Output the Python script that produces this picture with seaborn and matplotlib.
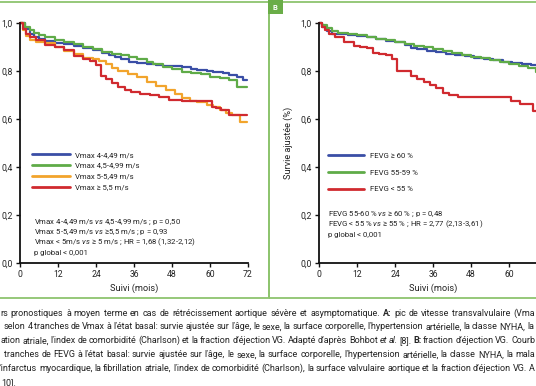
import matplotlib
matplotlib.use("Agg")
import matplotlib.pyplot as plt
import pandas as pd
import seaborn as sns
from matplotlib.patches import Rectangle

# ---------------- data ----------------
X_TICKS = [0, 12, 24, 36, 48, 60, 72]
Y_TICKS = [0.0, 0.2, 0.4, 0.6, 0.8, 1.0]
Y_TICK_LABELS = ["0,0", "0,2", "0,4", "0,6", "0,8", "1,0"]
X_LABEL = "Suivi (mois)"
Y_LABEL = "Survie ajustée (%)"

# Panel A : Vmax groups
A_LABELS = ["Vmax 4-4,49 m/s", "Vmax 4,5-4,99 m/s", "Vmax 5-5,49 m/s", "Vmax ≥ 5,5 m/s"]
a_blue_t = [0, 1.5, 3, 4.5, 6, 8, 11, 14, 17, 20, 23, 26, 28, 30, 32, 34.5, 37, 40, 43, 45, 48, 51, 54, 56, 59, 61, 64, 66, 68.5, 70.5, 71.7]
a_blue_s = [1.0, 0.975, 0.955, 0.94, 0.932, 0.925, 0.918, 0.911, 0.903, 0.894, 0.886, 0.877, 0.868, 0.858, 0.85, 0.839, 0.833, 0.828, 0.825, 0.822, 0.82, 0.818, 0.81, 0.804, 0.80, 0.794, 0.79, 0.783, 0.774, 0.763, 0.763]
a_green_t = [0, 1.5, 3, 4.5, 6, 8, 11, 14, 17, 20, 23, 26, 29, 32, 34.5, 37, 40, 42, 45, 48, 51, 54, 57, 60, 63, 66, 68.4, 71.7]
a_green_s = [1.0, 0.985, 0.97, 0.957, 0.948, 0.94, 0.93, 0.922, 0.912, 0.901, 0.89, 0.88, 0.872, 0.865, 0.86, 0.85, 0.839, 0.83, 0.818, 0.807, 0.797, 0.79, 0.786, 0.776, 0.77, 0.763, 0.735, 0.735]
a_orange_t = [0, 1, 2, 3, 5, 8, 11, 14, 17, 20, 23, 25, 27, 29, 31, 34, 37, 40, 43, 46, 49, 51, 53.6, 56, 59, 61, 63, 65, 67, 69.4, 71.7]
a_orange_s = [1.0, 0.97, 0.945, 0.928, 0.922, 0.915, 0.9, 0.882, 0.869, 0.856, 0.852, 0.84, 0.828, 0.814, 0.80, 0.787, 0.775, 0.755, 0.738, 0.721, 0.703, 0.686, 0.675, 0.67, 0.66, 0.65, 0.637, 0.625, 0.617, 0.589, 0.589]
a_red_t = [0, 1, 2, 3, 5, 8, 11, 14, 17, 20, 22, 24, 25.5, 27, 29, 31, 33, 35, 38, 41, 44, 47, 51, 55, 60.5, 62, 63.5, 66, 71.7]
a_red_s = [1.0, 0.975, 0.955, 0.94, 0.93, 0.908, 0.898, 0.888, 0.862, 0.848, 0.84, 0.825, 0.78, 0.765, 0.75, 0.735, 0.72, 0.711, 0.705, 0.70, 0.69, 0.679, 0.675, 0.675, 0.651, 0.645, 0.637, 0.617, 0.617]

# Panel B : FEVG groups
B_LABELS = ["FEVG ≥ 60 %", "FEVG 55-59 %", "FEVG < 55 %"]
b_blue_t = [0, 1, 2.5, 4, 6, 9, 12, 15, 18, 21, 24, 27, 29, 31, 34, 37, 40, 43, 46, 49, 52, 55, 58, 61, 64, 67, 69, 72]
b_blue_s = [1.0, 0.985, 0.965, 0.955, 0.953, 0.95, 0.945, 0.94, 0.933, 0.927, 0.92, 0.91, 0.895, 0.89, 0.885, 0.88, 0.872, 0.866, 0.862, 0.855, 0.85, 0.845, 0.839, 0.834, 0.828, 0.825, 0.818, 0.818]
b_green_t = [0, 1, 2.5, 4, 6, 9, 12, 15, 18, 21, 24, 27, 30, 33, 36, 39, 42, 45, 48, 51, 54, 57, 60, 63, 66, 68.6, 72]
b_green_s = [1.0, 0.99, 0.978, 0.967, 0.958, 0.953, 0.948, 0.942, 0.935, 0.928, 0.92, 0.912, 0.905, 0.898, 0.89, 0.882, 0.875, 0.867, 0.86, 0.853, 0.845, 0.838, 0.83, 0.822, 0.814, 0.797, 0.797]
b_red_t = [0, 1, 2, 3, 5, 8, 11, 13, 15, 17, 19, 21, 23, 24.6, 27, 29, 31, 33, 35, 37, 39, 41, 44, 60.6, 63.4, 67.5, 72]
b_red_s = [1.0, 0.985, 0.97, 0.955, 0.94, 0.922, 0.905, 0.9, 0.894, 0.875, 0.87, 0.865, 0.848, 0.80, 0.8, 0.778, 0.765, 0.755, 0.74, 0.728, 0.71, 0.70, 0.693, 0.677, 0.662, 0.635, 0.635]

A_STATS = [
    r"Vmax 4-4,49 m/s $\mathit{vs}$ 4,5-4,99 m/s ; p = 0,50",
    r"Vmax 5-5,49 m/s $\mathit{vs}$ ≥5,5 m/s ; p = 0,93",
    r"Vmax < 5m/s $\mathit{vs}$ ≥ 5 m/s ; HR = 1,68 (1,32-2,12)",
    "p global < 0,001",
]
B_STATS = [
    r"FEVG 55-60 % $\mathit{vs}$ ≥ 60 % ; p = 0,48",
    r"FEVG < 55 % $\mathit{vs}$ ≥ 55 % ; HR = 2,77 (2,13-3,61)",
    "p global < 0,001",
]
CAPTION = [
    "rs pronostiques à moyen terme en cas de rétrécissement aortique sévère et asymptomatique. **A:** pic de vitesse transvalvulaire (Vma",
    "selon 4 tranches de Vmax à l’état basal: survie ajustée sur l’âge, le sexe, la surface corporelle, l’hypertension artérielle, la classe NYHA, la",
    "ation atriale, l’index de comorbidité (Charlson) et la fraction d’éjection VG. Adapté d’après Bohbot _et _al. [8]. **B:** fraction d’éjection VG. Courb",
    "tranches de FEVG à l’état basal: survie ajustée sur l’âge, le sexe, la surface corporelle, l’hypertension artérielle, la classe NYHA, la mala",
    "’infarctus myocardique, la fibrillation atriale, l’index de comorbidité (Charlson), la surface valvulaire aortique et la fraction d’éjection VG. A",
    "10].",
]

# ---------------- style ----------------
COL_BLUE, COL_GREEN, COL_ORANGE, COL_RED = "#3a4ea6", "#5fab48", "#f2a42c", "#d02a2f"
BORDER = "#8dc46e"
LABEL_FILL = "#6aad48"
TXT = "#222222"

sns.set_theme(style="ticks")
plt.rcParams["font.family"] = ["Roboto", "DejaVu Sans"]
plt.rcParams["mathtext.fontset"] = "custom"
plt.rcParams["mathtext.rm"] = "Roboto"
plt.rcParams["mathtext.it"] = "Roboto:italic"
plt.rcParams["mathtext.bf"] = "Roboto:bold"

W, H = 536, 386
fig = plt.figure(figsize=(W / 100, H / 100), dpi=100)
fig.patch.set_facecolor("white")


def fx(px):
    return px / W


def fy(py):
    return 1 - py / H


# axes geometry in pixels
XA0, XB0, XW = 20, 319, 228
YT, YB = 23, 263
axA = fig.add_axes([fx(XA0), fy(YB), XW / W, (YB - YT) / H])
axB = fig.add_axes([fx(XB0), fy(YB), XW / W, (YB - YT) / H])

dfA = pd.concat([
    pd.DataFrame({"t": t, "s": s, "g": lab})
    for t, s, lab in zip([a_blue_t, a_green_t, a_orange_t, a_red_t],
                         [a_blue_s, a_green_s, a_orange_s, a_red_s], A_LABELS)
])
dfB = pd.concat([
    pd.DataFrame({"t": t, "s": s, "g": lab})
    for t, s, lab in zip([b_blue_t, b_green_t, b_red_t],
                         [b_blue_s, b_green_s, b_red_s], B_LABELS)
])

sns.lineplot(data=dfA, x="t", y="s", hue="g", hue_order=A_LABELS,
             palette=[COL_BLUE, COL_GREEN, COL_ORANGE, COL_RED],
             estimator=None, sort=False, drawstyle="steps-post",
             linewidth=1.6, ax=axA)
sns.lineplot(data=dfB, x="t", y="s", hue="g", hue_order=B_LABELS,
             palette=[COL_BLUE, COL_GREEN, COL_RED],
             estimator=None, sort=False, drawstyle="steps-post",
             linewidth=1.6, ax=axB)

for ax in (axA, axB):
    for ln in ax.get_lines():
        ln.set_clip_on(False)
    ax.set_xlim(0, 72)
    ax.set_ylim(0, 1)
    ax.set_xticks(X_TICKS)
    ax.set_xticklabels([str(v) for v in X_TICKS])
    ax.set_yticks(Y_TICKS)
    ax.set_yticklabels(Y_TICK_LABELS)
    ax.set_facecolor("none")
    for sp in ("top", "right"):
        ax.spines[sp].set_visible(False)
    for sp in ("left", "bottom"):
        ax.spines[sp].set_color("#111111")
        ax.spines[sp].set_linewidth(1.3)
    ax.tick_params(direction="out", length=3, width=1, colors="#111111",
                   labelsize=6.2, labelcolor=TXT, pad=2)
    ax.set_xlabel(X_LABEL, fontsize=6.6, color=TXT, labelpad=3)
    ax.set_ylabel("")

# the 72 label of panel B lies outside the visible picture
axB.get_xticklabels()[-1].set_visible(False)

axB.set_ylabel(Y_LABEL, fontsize=6.6, color=TXT)
axB.yaxis.set_label_coords((293 - XB0) / XW, 0.5)

# legends
hA, lA = axA.get_legend_handles_labels()
axA.legend(hA, lA, loc="upper left", bbox_to_anchor=(0.053, 0.465),
           frameon=False, fontsize=5.6, handlelength=4.9, handletextpad=0.65,
           labelspacing=0.56, borderpad=0, borderaxespad=0, labelcolor=TXT)
hB, lB = axB.get_legend_handles_labels()
axB.legend(hB, lB, loc="upper left", bbox_to_anchor=(0.039, 0.46),
           frameon=False, fontsize=5.6, handlelength=4.7, handletextpad=0.65,
           labelspacing=1.32, borderpad=0, borderaxespad=0, labelcolor=TXT)
for leg in (axA.get_legend(), axB.get_legend()):
    for ln in leg.get_lines():
        ln.set_linewidth(2.0)

# statistics annotations (one text per line)
for i, line in enumerate(A_STATS):
    fig.text(fx(34), fy(224 + i * 10.2), line, fontsize=5.6, color=TXT,
             va="baseline", ha="left")
for i, line in enumerate(B_STATS):
    fig.text(fx(328), fy(215.5 + i * 10.8), line, fontsize=5.6, color=TXT,
             va="baseline", ha="left")

# ---------------- justified caption ----------------
renderer = fig.canvas.get_renderer()


def parse(line):
    out = []
    for tok in line.split(" "):
        if tok.startswith("**"):
            out.append((tok.strip("*"), "b"))
        elif tok.startswith("_"):
            out.append((tok[1:], "i"))
        else:
            out.append((tok, "n"))
    return out


def place(x_px, base_px, line, size, x_end=None):
    words = parse(line)
    arts, widths = [], []
    for w, st in words:
        kw = {}
        if st == "b":
            kw["fontweight"] = "bold"
        if st == "i":
            kw["fontstyle"] = "italic"
        a = fig.text(0, fy(base_px), w, fontsize=size, color=TXT,
                     va="baseline", ha="left", **kw)
        arts.append(a)
        widths.append(a.get_window_extent(renderer=renderer).width)
    if x_end is not None and len(arts) > 1:
        gap = (x_end - x_px - sum(widths)) / (len(arts) - 1)
    else:
        gap = size * 100 / 72 * 0.26
    x = x_px
    for a, w in zip(arts, widths):
        a.set_x(fx(x))
        x += w + gap


cap_x0 = [0, 4, 1, 4, 0, 1]
cap_end = [535, 534, 535, 535, 535, None]
for i, line in enumerate(CAPTION):
    place(cap_x0[i], 315.5 + i * 13.9, line, 6.45, cap_end[i])

# ---------------- panel frames ----------------
fig.add_artist(Rectangle((fx(-10), fy(297.5)), fx(278.5), fy(1.5) - fy(297.5),
                         transform=fig.transFigure, fill=False,
                         edgecolor=BORDER, linewidth=1.3))
fig.add_artist(Rectangle((fx(268.5), fy(297.5)), fx(290), fy(1.5) - fy(297.5),
                         transform=fig.transFigure, fill=False,
                         edgecolor=BORDER, linewidth=1.3))
fig.add_artist(Rectangle((fx(267.5), fy(13.5)), fx(15), fy(0) - fy(13.5),
                         transform=fig.transFigure, facecolor=LABEL_FILL,
                         edgecolor="none"))
fig.text(fx(275), fy(7), "B", color="white", fontsize=5.5, fontweight="bold",
         ha="center", va="center")

fig.savefig("out.png", dpi=100)
